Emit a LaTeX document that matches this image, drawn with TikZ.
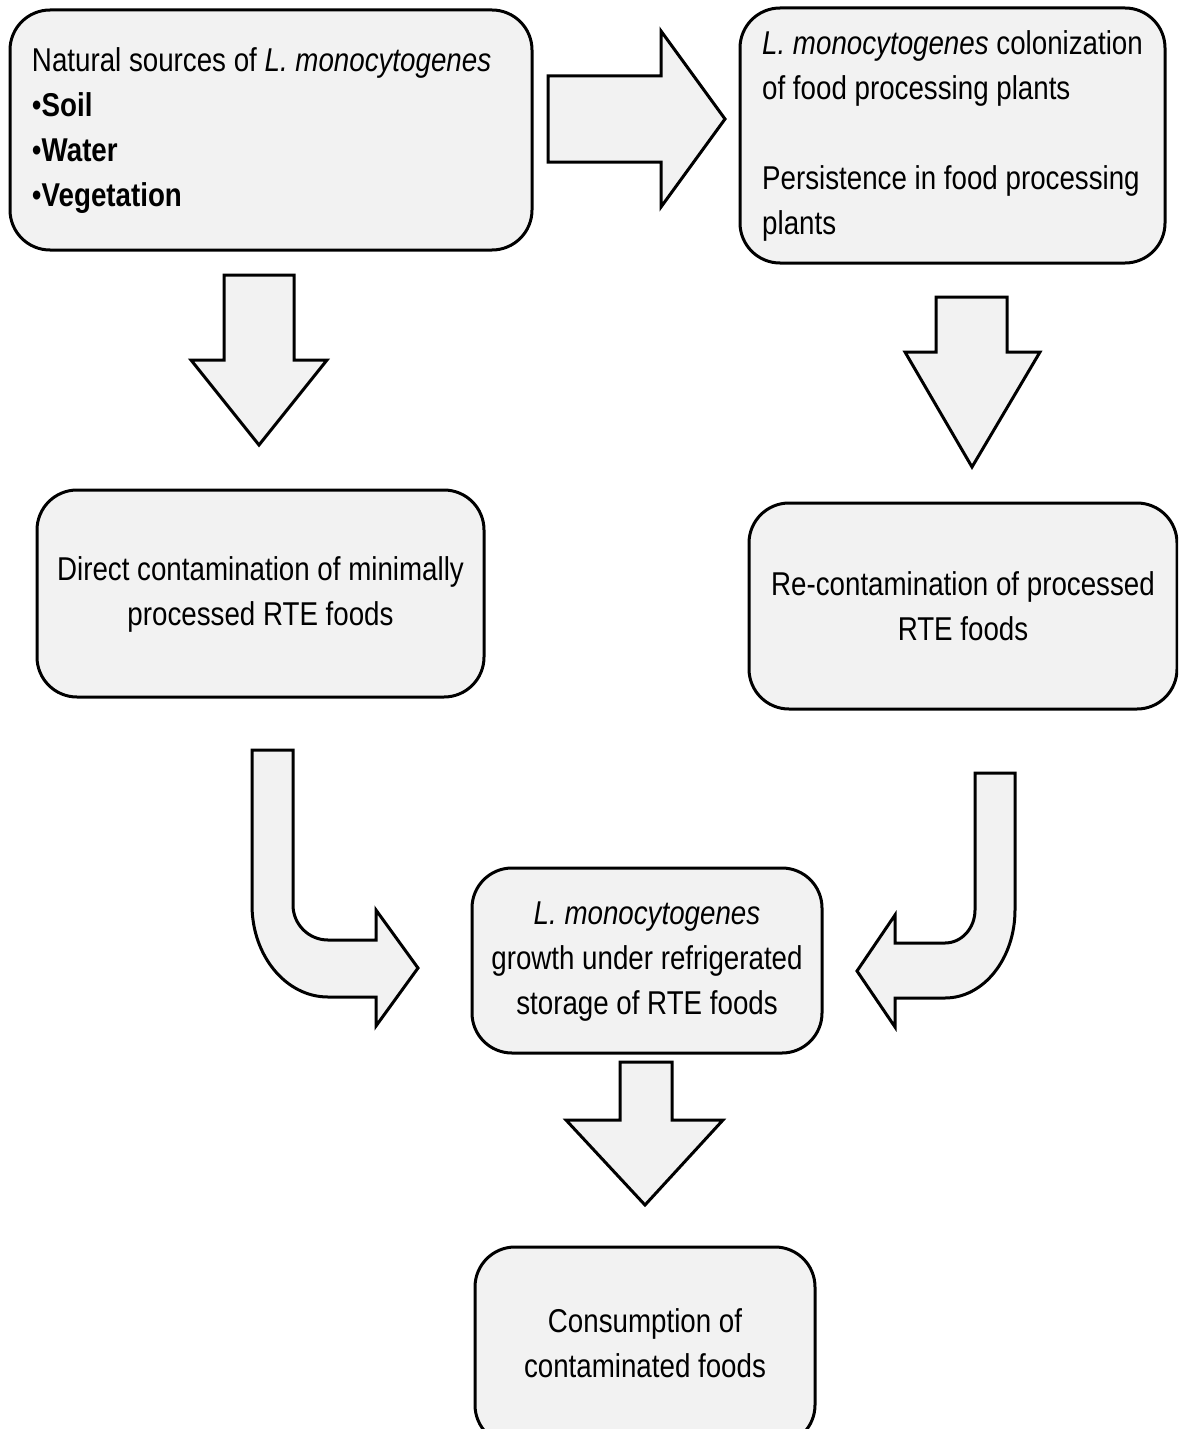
\documentclass[tikz,border=0pt]{standalone}
\usepackage{fontspec}
\setmainfont{Liberation Sans}[FakeStretch=0.84]
\definecolor{boxgray}{HTML}{F2F2F2}
\newcommand\boxfont{\fontsize{16.5pt}{22.5pt}\selectfont}
\begin{document}
\begin{tikzpicture}[x=0.5pt,y=-0.5pt,
  box/.style={draw=black, line width=1.5pt, fill=boxgray, rounded corners=20pt,
    font=\boxfont, align=center, inner sep=0pt},
  blockarrow/.style={draw=black, line width=1.5pt, fill=boxgray, line join=miter}]
\clip (0,0) rectangle (1178,1429);
\fill[white] (0,0) rectangle (1178,1429);

% boxes
\node[box, minimum width=261pt, minimum height=120pt] (src) at (271,130)
  {\raisebox{-2.5pt}{\begin{tabular}{@{}p{239pt}@{}}
   Natural sources of \textit{L. monocytogenes}\\
   •\textbf{Soil}\\
   •\textbf{Water}\\
   •\textbf{Vegetation}
   \end{tabular}}};
\node[box, minimum width=212.5pt, minimum height=127.5pt] (colon) at (952.5,135.5)
  {\raisebox{-2.5pt}{\begin{tabular}{@{}l@{}}
   \textit{L. monocytogenes} colonization\\
   of food processing plants\\[22.5pt]
   Persistence in food processing\\
   plants
   \end{tabular}}};
\node[box, minimum width=223.5pt, minimum height=103.5pt] (direct) at (260.5,593.5)
  {\raisebox{-3.5pt}{\begin{tabular}{@{}c@{}}
   Direct contamination of minimally\\processed RTE foods
   \end{tabular}}};
\node[box, minimum width=214pt, minimum height=103pt] (recont) at (963,606)
  {Re-contamination of processed\\RTE foods};
\node[box, minimum width=175pt, minimum height=92.5pt] (growth) at (647,960.5)
  {\raisebox{-2.5pt}{\begin{tabular}{@{}c@{}}
   \textit{L. monocytogenes}\\growth under refrigerated\\storage of RTE foods
   \end{tabular}}};
\node[box, minimum width=170pt, minimum height=99pt] (consume) at (645,1346)
  {\raisebox{2pt}{\begin{tabular}{@{}c@{}}
   Consumption of\\contaminated foods
   \end{tabular}}};

% block arrows
\draw[blockarrow] (548,76) -- (661,76) -- (661,31) -- (725,119) -- (661,207) -- (661,162) -- (548,162) -- cycle;
\draw[blockarrow] (224,275) -- (294,275) -- (294,360) -- (327,360) -- (259,445) -- (191,360) -- (224,360) -- cycle;
\draw[blockarrow] (936,297) -- (1007,297) -- (1007,352) -- (1040,352) -- (972,467) -- (905,352) -- (936,352) -- cycle;
\draw[blockarrow] (620,1062) -- (672,1062) -- (672,1120) -- (723,1120) -- (645,1205) -- (566,1120) -- (620,1120) -- cycle;

% bent arrows
\draw[blockarrow] (252,750) -- (293,750) -- (293,905)
  .. controls (293,924.3) and (308.7,940) .. (328,940)
  -- (376,940) -- (376,910) -- (418,968) -- (376,1026) -- (376,997) -- (328,997)
  .. controls (286,997) and (252,955.8) .. (252,905) -- cycle;
\draw[blockarrow] (975,773) -- (1015,773) -- (1015,910)
  .. controls (1015,958.6) and (983.6,998) .. (945,998)
  -- (895,998) -- (895,1027) -- (857,971) -- (895,915) -- (895,943) -- (945,943)
  .. controls (961.6,943) and (975,928.2) .. (975,910) -- cycle;
\end{tikzpicture}
\end{document}
